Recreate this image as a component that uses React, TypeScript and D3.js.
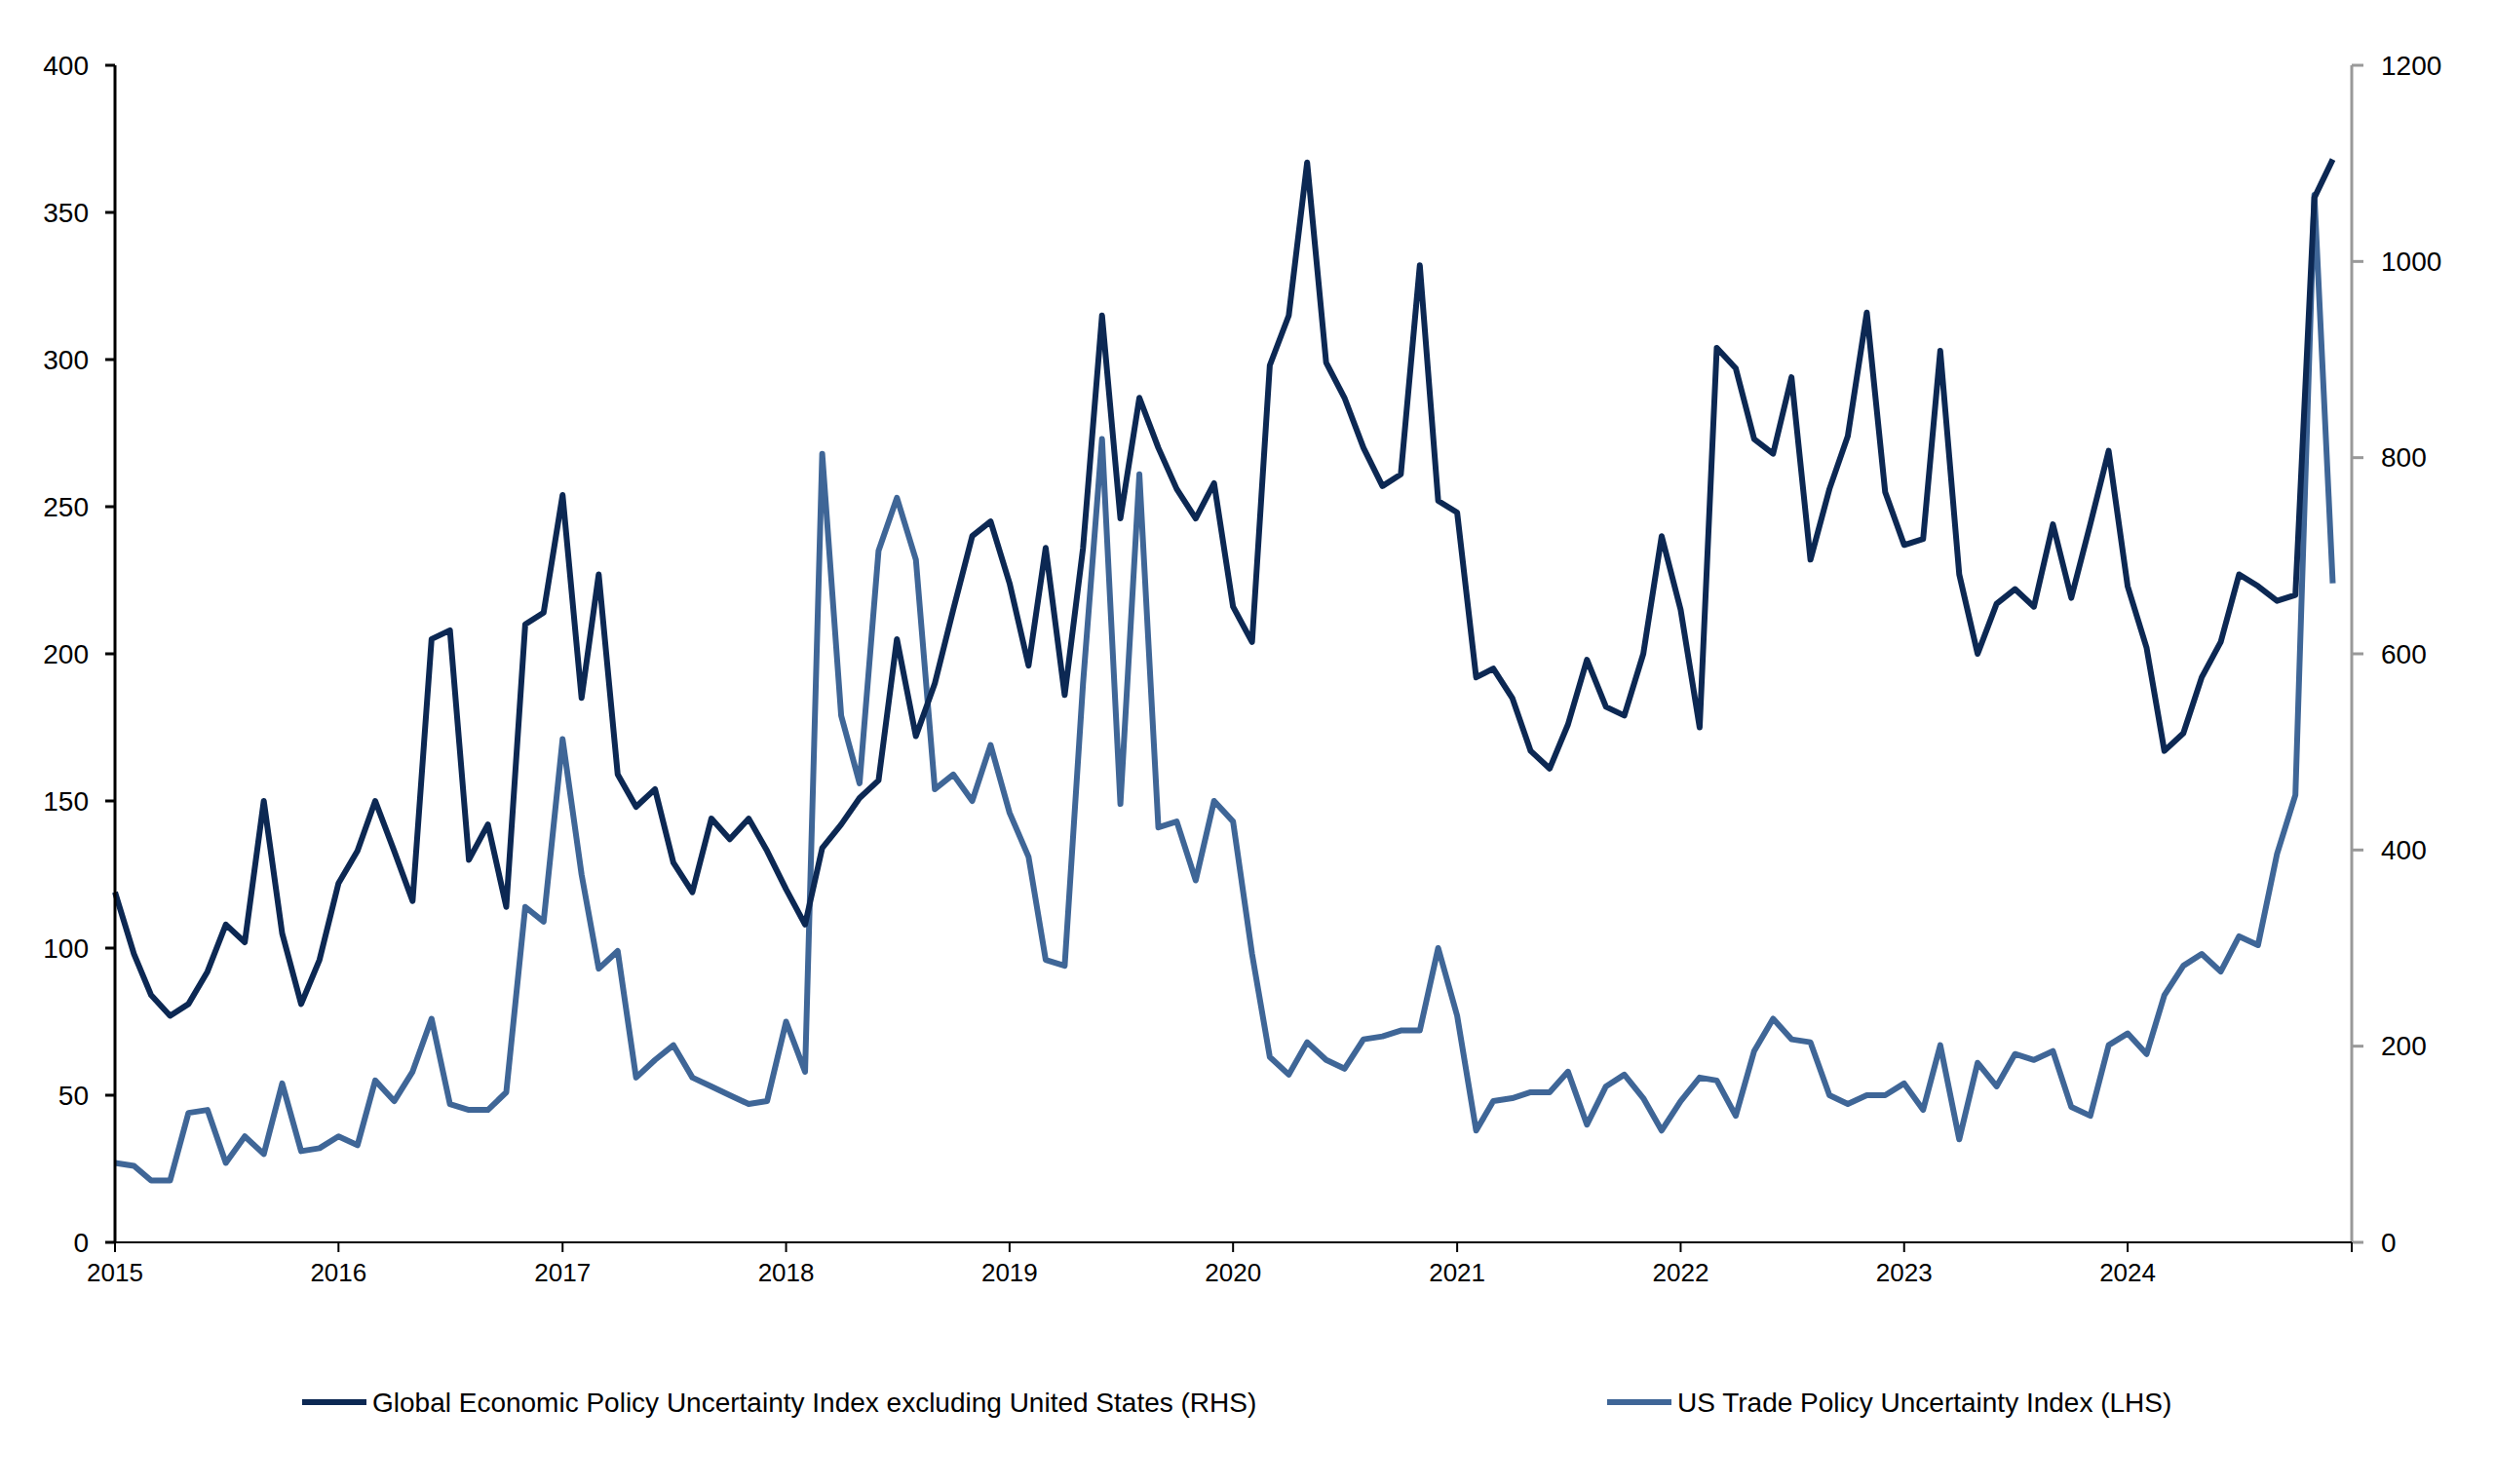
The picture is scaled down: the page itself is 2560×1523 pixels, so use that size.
import React from "react";
import * as d3 from "d3";

const globalEPU = [
  119, 98, 84, 77, 81, 92, 108, 102, 150, 105, 81, 96,
  122, 133, 150, 133, 116, 205, 208, 130, 142, 114, 210, 214,
  254, 185, 227, 159, 148, 154, 129, 119, 144, 137, 144, 133,
  120, 108, 134, 142, 151, 157, 205, 172, 190, 215, 240, 245,
  224, 196, 236, 186, 236, 315, 246, 287, 270, 256, 246, 258,
  216, 204, 298, 315, 367, 299, 287, 270, 257, 261, 332, 252,
  248, 192, 195, 185, 167, 161, 176, 198, 182, 179, 200, 240,
  215, 175, 304, 297, 273, 268, 294, 232, 256, 274, 316, 255,
  237, 239, 303, 227, 200, 217, 222, 216, 244, 219, 244, 269,
  223, 202, 167, 173, 192, 204, 227, 223, 218, 220, 355, 368,
].map((v) => v * 3);

const usTPU = [
  27, 26, 21, 21, 44, 45, 27, 36, 30, 54, 31, 32,
  36, 33, 55, 48, 58, 76, 47, 45, 45, 51, 114, 109,
  171, 125, 93, 99, 56, 62, 67, 56, 53, 50, 47, 48,
  75, 58, 268, 179, 156, 235, 253, 232, 154, 159, 150, 169,
  146, 131, 96, 94, 190, 273, 149, 261, 141, 143, 123, 150,
  143, 98, 63, 57, 68, 62, 59, 69, 70, 72, 72, 100,
  77, 38, 48, 49, 51, 51, 58, 40, 53, 57, 49, 38,
  48, 56, 55, 43, 65, 76, 69, 68, 50, 47, 50, 50,
  54, 45, 67, 35, 61, 53, 64, 62, 65, 46, 43, 67,
  71, 64, 84, 94, 98, 92, 104, 101, 132, 152, 356, 224,
];

const leftTicks = [0, 50, 100, 150, 200, 250, 300, 350, 400];
const rightTicks = [0, 200, 400, 600, 800, 1000, 1200];
const yearTicks = [2015, 2016, 2017, 2018, 2019, 2020, 2021, 2022, 2023, 2024];
const legendLabels = [
  "Global Economic Policy Uncertainty Index excluding United States (RHS)",
  "US Trade Policy Uncertainty Index (LHS)",
];

const DARK = "#0c2853";
const LIGHT = "#3f6697";

export default function App() {
  const W = 2560, H = 1523;
  const L = 118, R = 2413, T = 67, B = 1275;
  const dates = globalEPU.map((_, i) => new Date(2015, i, 1));
  const x = d3.scaleTime().domain([new Date(2015, 0, 1), new Date(2025, 0, 1)]).range([L, R]);
  const yL = d3.scaleLinear().domain([0, 400]).range([B, T]);
  const yR = d3.scaleLinear().domain([0, 1200]).range([B, T]);
  const lineR = d3.line<number>().x((_, i) => x(dates[i])).y((d) => yR(d));
  const lineL = d3.line<number>().x((_, i) => x(dates[i])).y((d) => yL(d));
  const font = "Arial, 'Liberation Sans', sans-serif";
  return (
    <svg width={W} height={H} style={{ position: "absolute", left: 0, top: 0 }} fontFamily={font}>
      <rect width={W} height={H} fill="white" />
      <path d={lineL(usTPU) || ""} fill="none" stroke={LIGHT} strokeWidth={6} strokeLinejoin="round" />
      <path d={lineR(globalEPU) || ""} fill="none" stroke={DARK} strokeWidth={6} strokeLinejoin="round" />
      <line x1={L} x2={L} y1={T} y2={B} stroke="black" strokeWidth={3} />
      {leftTicks.map((t) => (
        <g key={"l" + t}>
          <line x1={L - 10} x2={L} y1={yL(t)} y2={yL(t)} stroke="black" strokeWidth={3} />
          <text x={L - 27} y={yL(t)} dy="0.35em" textAnchor="end" fontSize={28}>{t}</text>
        </g>
      ))}
      <line x1={R} x2={R} y1={T} y2={B} stroke="#999" strokeWidth={3} />
      {rightTicks.map((t) => (
        <g key={"r" + t}>
          <line x1={R} x2={R + 12} y1={yR(t)} y2={yR(t)} stroke="#999" strokeWidth={3} />
          <text x={R + 30} y={yR(t)} dy="0.35em" fontSize={28}>{t}</text>
        </g>
      ))}
      <line x1={L} x2={R} y1={B} y2={B} stroke="black" strokeWidth={2} />
      {[...yearTicks, 2025].map((yr) => (
        <line key={"t" + yr} x1={x(new Date(yr, 0, 1))} x2={x(new Date(yr, 0, 1))} y1={B} y2={B + 10} stroke="black" strokeWidth={2} />
      ))}
      {yearTicks.map((yr) => (
        <text key={"y" + yr} x={x(new Date(yr, 0, 1))} y={B + 40} textAnchor="middle" fontSize={26}>{yr}</text>
      ))}
      <line x1={310} x2={376} y1={1439} y2={1439} stroke={DARK} strokeWidth={6} />
      <text x={382} y={1439} dy="0.35em" fontSize={28}>{legendLabels[0]}</text>
      <line x1={1649} x2={1715} y1={1439} y2={1439} stroke={LIGHT} strokeWidth={6} />
      <text x={1721} y={1439} dy="0.35em" fontSize={28}>{legendLabels[1]}</text>
    </svg>
  );
}
